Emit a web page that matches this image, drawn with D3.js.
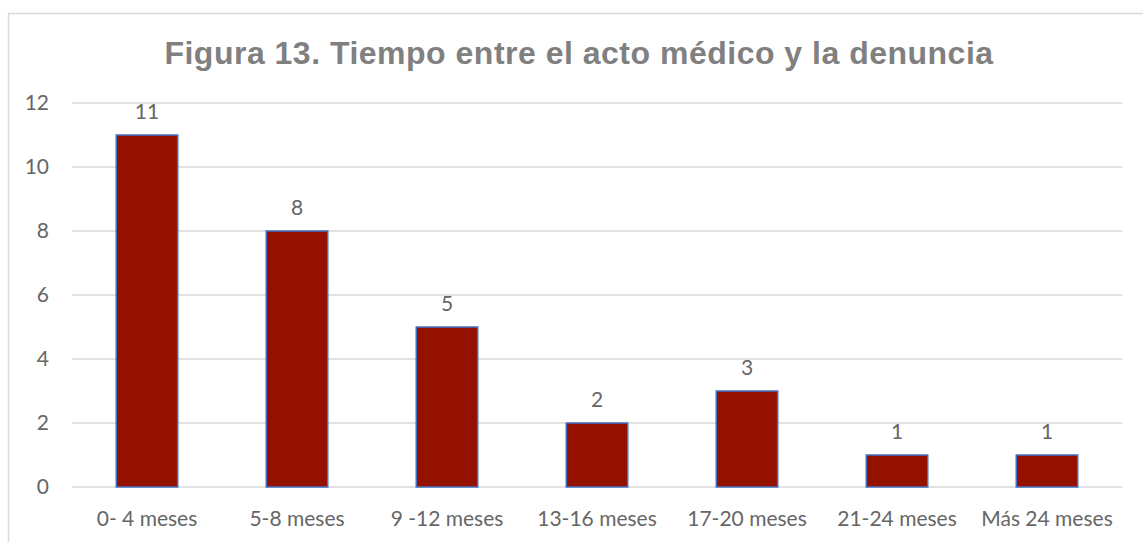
<!DOCTYPE html>
<html>
<head>
<meta charset="utf-8">
<script src="https://cdn.jsdelivr.net/npm/d3@7"></script>
<style>
  body { margin: 0; background: #fff; }
  text { font-family: Lato, "Open Sans", sans-serif; }
</style>
</head>
<body>
<div id="chart"></div>
<script>
"use strict";

const categories = ["0- 4 meses", "5-8 meses", "9 -12 meses", "13-16 meses", "17-20 meses", "21-24 meses", "Más 24 meses"];
const counts = [11, 8, 5, 2, 3, 1, 1];
const yTicks = [0, 2, 4, 6, 8, 10, 12];
const chartTitle = "Figura 13. Tiempo entre el acto médico y la denuncia";

const msm = {
    width: 1143,
    height: 542,
    left: 72,
    right: 1122,
    top: 103,
    bottom: 487
}

let svg = d3.select("#chart").append("svg")
    .attr("width", msm.width)
    .attr("height", msm.height);

// outer chart border (runs off the right and bottom of the picture)
svg.append("rect")
    .attr("x", 8.5)
    .attr("y", 13.5)
    .attr("width", 1200)
    .attr("height", 600)
    .attr("fill", "none")
    .attr("stroke", "#d9d9d9")
    .attr("stroke-width", 1.5);

let x = d3.scaleBand()
    .domain(categories)
    .range([msm.left, msm.right])
    .paddingInner(0.59)
    .paddingOuter(0.295);

let y = d3.scaleLinear()
    .domain([0, 12])
    .range([msm.bottom, msm.top]);

// gridlines
svg.append("g")
    .selectAll("line")
    .data(yTicks)
    .enter().append("line")
    .attr("x1", msm.left)
    .attr("x2", msm.right)
    .attr("y1", d => y(d))
    .attr("y2", d => y(d))
    .attr("stroke", "#d9d9d9")
    .attr("stroke-width", 1.3);

// y axis labels
let yAxis = d3.axisLeft(y).tickValues(yTicks).tickSize(0).tickPadding(0);
let yg = svg.append("g")
    .attr("transform", "translate(49,0)")
    .call(yAxis);
yg.select(".domain").remove();
yg.selectAll("text")
    .attr("fill", "#666666")
    .style("font-size", "21px")
    .style("font-family", "Lato, 'Open Sans', sans-serif");

// x axis labels
let xAxis = d3.axisBottom(x).tickSize(0).tickPadding(0);
let xg = svg.append("g")
    .attr("transform", "translate(0," + (msm.bottom + 24) + ")")
    .call(xAxis);
xg.select(".domain").remove();
xg.selectAll("text")
    .attr("fill", "#666666")
    .style("font-size", "21px")
    .style("font-family", "Lato, 'Open Sans', sans-serif");

// bars
svg.selectAll(".bar")
    .data(counts)
    .enter().append("rect")
    .attr("class", "bar")
    .attr("x", (d, i) => x(categories[i]))
    .attr("y", d => y(d))
    .attr("width", x.bandwidth())
    .attr("height", d => y(0) - y(d))
    .attr("fill", "#941100")
    .attr("stroke", "#4472c4")
    .attr("stroke-width", 1.5);

// data labels
svg.selectAll(".lbl")
    .data(counts)
    .enter().append("text")
    .attr("class", "lbl")
    .attr("x", (d, i) => x(categories[i]) + x.bandwidth() / 2)
    .attr("y", d => y(d) - 16)
    .attr("text-anchor", "middle")
    .attr("fill", "#666666")
    .style("font-size", "21px")
    .text(d => d);

// title
svg.append("text")
    .attr("x", 579)
    .attr("y", 64)
    .attr("text-anchor", "middle")
    .attr("fill", "#808080")
    .style("font-family", "'Liberation Sans', Arial, sans-serif")
    .style("font-weight", "bold")
    .style("font-size", "32px")
    .style("letter-spacing", "0.5px")
    .text(chartTitle);
</script>
</body>
</html>
